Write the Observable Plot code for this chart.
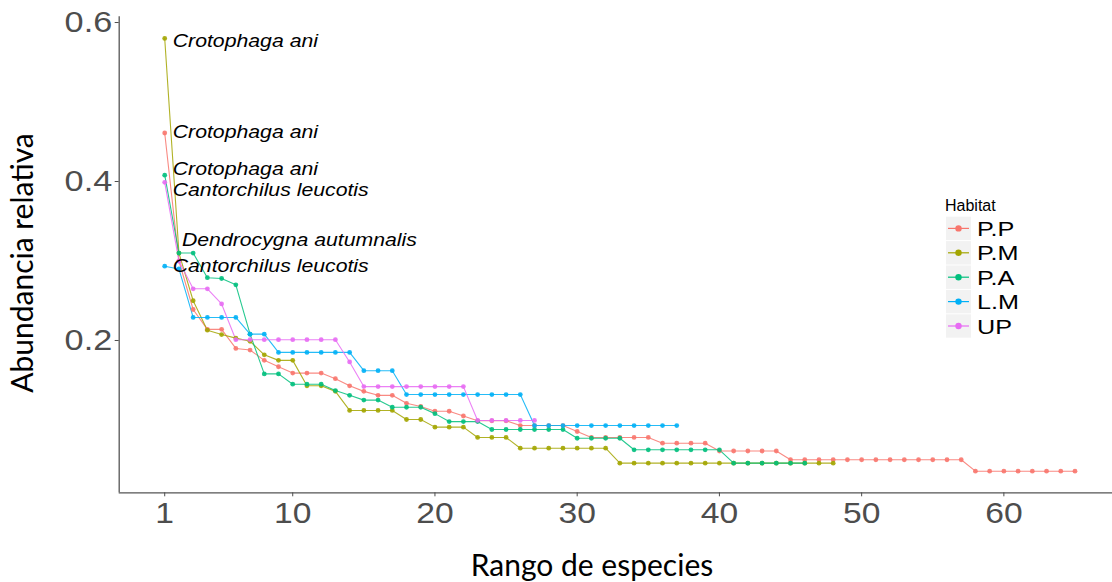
<!DOCTYPE html>
<html><head><meta charset="utf-8">
<script src="https://cdn.jsdelivr.net/npm/d3@7"></script>
<script src="https://cdn.jsdelivr.net/npm/@observablehq/plot@0.6"></script>
<style>
body{margin:0;background:#fff;}
#wrap{position:relative;width:1112px;height:582px;overflow:hidden;background:#fff;}
</style></head><body><div id="wrap"></div>
<script>
const habitats = ["P.P","P.M","P.A","L.M","UP"];
const colors = ["#F8766D","#A3A500","#00BF7D","#00B0F6","#E76BF3"];

const valuesPP = [0.461,0.300,0.239,0.214,0.214,0.190,0.188,0.175,0.167,0.159,
  0.159,0.159,0.152,0.143,0.136,0.131,0.131,0.121,0.117,0.111,
  0.111,0.105,0.099,0.099,0.099,0.093,0.093,0.093,0.093,0.0855,
  0.078,0.078,0.078,0.078,0.078,0.0708,0.0708,0.0708,0.0708,
  0.061,0.061,0.061,0.061,0.061,
  0.050,0.050,0.050,0.050,0.050,0.050,0.050,0.050,0.050,0.050,0.050,0.050,0.050,
  0.0356,0.0356,0.0356,0.0356,0.0356,0.0356,0.0356,0.0356];
const valuesPM = [0.580,0.310,0.250,0.213,0.2075,0.203,0.199,0.182,0.175,0.175,
  0.143,0.143,0.136,0.112,0.112,0.112,0.112,0.1006,0.1006,0.091,
  0.091,0.091,0.078,0.078,0.078,
  0.0645,0.0645,0.0645,0.0645,0.0645,0.0645,0.0645,
  0.0457,0.0457,0.0457,0.0457,0.0457,0.0457,0.0457,0.0457,
  0.0457,0.0457,0.0457,0.0457,0.0457,0.0457,0.0457,0.0457];
const valuesPA = [0.408,0.310,0.310,0.279,0.278,0.270,0.208,0.158,0.158,0.145,
  0.145,0.145,0.137,0.131,0.125,0.125,0.116,0.116,0.116,0.108,
  0.098,0.098,0.098,0.088,0.088,0.088,0.088,0.088,0.088,
  0.077,0.077,0.077,0.077,
  0.0625,0.0625,0.0625,0.0625,0.0625,0.0625,0.0625,
  0.0457,0.0457,0.0457,0.0457,0.0457,0.0457];
const valuesLM = [0.2935,0.290,0.229,0.229,0.229,0.229,0.208,0.208,
  0.185,0.185,0.185,0.185,0.185,0.185,0.162,0.162,0.162,
  0.132,0.132,0.132,0.132,0.132,0.132,0.132,0.132,0.132,
  0.093,0.093,0.093,0.093,0.093,0.093,0.093,0.093,0.093,0.093,0.093];
const valuesUP = [0.399,0.300,0.265,0.265,0.246,0.201,0.201,0.201,0.201,0.201,
  0.201,0.201,0.201,0.173,0.142,0.142,0.142,0.142,0.142,0.142,
  0.142,0.142,0.0994,0.0994,0.0994,0.0994,0.0994];

const xTicks = [1,10,20,30,40,50,60];
const yTicks = [0.2,0.4,0.6];

const speciesLabels = [
  {habitat:"P.M", rank:1, text:"Crotophaga ani"},
  {habitat:"P.P", rank:1, text:"Crotophaga ani"},
  {habitat:"P.A", rank:1, text:"Crotophaga ani"},
  {habitat:"UP",  rank:1, text:"Cantorchilus leucotis"},
  {habitat:"P.M", rank:2, text:"Dendrocygna autumnalis"},
  {habitat:"L.M", rank:1, text:"Cantorchilus leucotis"}
];

const seriesValues = [valuesPP, valuesPM, valuesPA, valuesLM, valuesUP];
const rows = [];
habitats.forEach((h, k) => seriesValues[k].forEach((v, i) => rows.push({habitat:h, rank:i+1, value:v})));
const lookup = (h, r) => rows.find(d => d.habitat === h && d.rank === r).value;
const labelRows = speciesLabels.map(d => ({...d, value: lookup(d.habitat, d.rank)}));

// label nudges (dx, dy in px) mimicking ggrepel placement
const nudges = [[8,2.5],[8,-1],[8,-6],[8,7.5],[3,-12.5],[8,0.5]];

const xDom = [-2.2, 68.2];
const yDom = [0.0084, 0.6072];
const axisColor = "#555555";
const tickText = "#4d4d4d";

const chart = Plot.plot({
  width: 1112, height: 582,
  marginLeft: 118.7, marginRight: 0, marginTop: 16.3, marginBottom: 89.7,
  x: {domain: xDom, range: [118.7, 1120]},
  y: {domain: yDom, range: [492.3, 16.3]},
  color: {domain: habitats, range: colors},
  style: {fontFamily: "'Liberation Sans', Arial, sans-serif", background: "white"},
  marks: [
    Plot.line(rows, {x: "rank", y: "value", z: "habitat", stroke: "habitat", strokeWidth: 1.1, strokeOpacity: 0.85}),
    Plot.dot(rows, {x: "rank", y: "value", fill: "habitat", r: 2.4, fillOpacity: 0.9}),
    ...labelRows.map((d, i) => Plot.text([d], {
      x: "rank", y: "value", text: "text", textAnchor: "start",
      dx: nudges[i][0], dy: nudges[i][1],
      fontStyle: "italic", fontSize: 18, fill: "black"
    })),
    Plot.ruleX([xDom[0]], {y1: yDom[0], y2: yDom[1], stroke: axisColor, strokeWidth: 1.3}),
    Plot.ruleY([yDom[0]], {x1: xDom[0], x2: xDom[1], stroke: axisColor, strokeWidth: 1.3}),
    Plot.axisY(yTicks, {tickSize: 4, tickPadding: 3, fontSize: 29, color: tickText, label: null, tickFormat: d => String(d)}),
    Plot.axisX(xTicks, {tickSize: 4, tickPadding: 5, fontSize: 30, color: tickText, label: null, tickFormat: d => String(d)})
  ]
});

const wrap = document.getElementById("wrap");
wrap.appendChild(chart);

const svg = d3.select(chart);
// the reference rendering is horizontally stretched: widen glyphs accordingly
function stretch(sel, f) {
  sel.each(function() {
    const L = this.getComputedTextLength();
    this.setAttribute("textLength", (L * f).toFixed(1));
    this.setAttribute("lengthAdjust", "spacingAndGlyphs");
  });
}
stretch(svg.selectAll('g[aria-label="text"] text'), 1.18);
stretch(svg.selectAll('g[aria-label="y-axis tick label"] text'), 1.18);
stretch(svg.selectAll('g[aria-label="x-axis tick label"] text'), 1.12);

// axis titles
svg.append("text")
  .attr("transform", "translate(33,263) rotate(-90)")
  .attr("text-anchor", "middle")
  .style("font-family", "Lato, 'Open Sans', sans-serif")
  .style("font-size", "30px").attr("fill", "black")
  .text("Abundancia relativa");
svg.append("text")
  .attr("x", 592).attr("y", 576)
  .attr("text-anchor", "middle")
  .style("font-family", "Lato, 'Open Sans', sans-serif")
  .style("font-size", "30px").attr("fill", "black")
  .text("Rango de especies");

// legend
const lg = svg.append("g").attr("transform", "translate(945,0)")
  .attr("text-anchor", "start")
  .style("font-family", "'Liberation Sans', Arial, sans-serif");
lg.append("text").attr("x", 0).attr("y", 211).attr("text-anchor", "start")
  .style("font-size", "16px").attr("fill", "black").text("Habitat");
habitats.forEach((h, i) => {
  const top = 216.7 + i * 24.4;
  const g = lg.append("g").attr("transform", `translate(1,${top})`);
  g.append("rect").attr("width", 25).attr("height", 23.4).attr("fill", "#f2f2f2");
  g.append("line").attr("x1", 2).attr("x2", 23).attr("y1", 11.7).attr("y2", 11.7)
    .attr("stroke", colors[i]).attr("stroke-width", 1.2);
  g.append("circle").attr("cx", 12.5).attr("cy", 11.7).attr("r", 3.2).attr("fill", colors[i]);
  const t = g.append("text").attr("x", 31).attr("y", 11.7).attr("dy", "0.36em").attr("text-anchor", "start")
    .style("font-size", "21px").attr("fill", "black").text(h);
  stretch(t, 1.2);
});
</script>
</body></html>
